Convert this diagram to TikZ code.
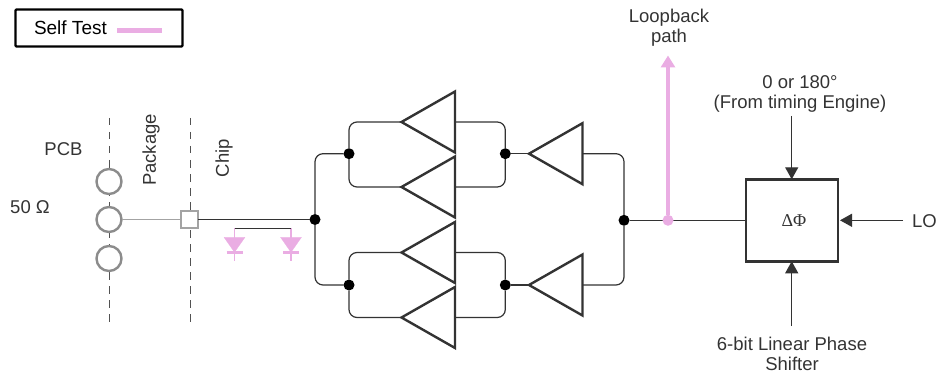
\documentclass[tikz,border=0pt]{standalone}
\usepackage{fontspec}
\setmainfont{Liberation Sans}
\newfontfamily\serifgreek{Liberation Serif}
\usetikzlibrary{shapes.geometric,arrows.meta}
\definecolor{ink}{HTML}{333333}
\definecolor{selftest}{HTML}{EAADE3}
\definecolor{pad}{HTML}{8C8C8C}
\tikzset{
  x=1pt,y=-1pt,
  every node/.style={inner sep=0pt,outer sep=0pt,text=ink,font=\fontsize{18.5}{20}\selectfont},
  wire/.style={draw=ink,line width=1.2pt},
  round wire/.style={wire,rounded corners=8pt},
  pcbwire/.style={draw=pad!80,line width=1.4pt},
  amp/.style={draw=ink,line width=2.4pt,fill=white,isosceles triangle,isosceles triangle apex angle=60,
    isosceles triangle stretches,shape border rotate=180,anchor=lower side,
    minimum width=61pt,minimum height=53.5pt},
  dot/.style={circle,fill=black,minimum size=11pt},
  pinkdot/.style={circle,fill=selftest,minimum size=11pt},
  padc/.style={circle,draw=pad,line width=2.4pt,fill=white,minimum size=25pt},
  boundary/.style={draw=ink!85,line width=1pt,dash pattern=on 7.5pt off 6.5pt},
  pinkline/.style={draw=selftest,line width=1.6pt},
  diode/.style={draw=selftest,fill=selftest,isosceles triangle,isosceles triangle apex angle=70,
    isosceles triangle stretches,shape border rotate=270,anchor=lower side,line width=.2pt,
    minimum width=21pt,minimum height=15pt},
  feed/.style={draw=ink,line width=1.2pt,-{Triangle[length=12pt,width=13pt]}},
  label/.style={align=center},
}
\begin{document}
\begin{tikzpicture}
\useasboundingbox (0,0) rectangle (937,377);
% legend
\node[draw=black,line width=2.4pt,rounded corners=1pt,minimum width=167pt,minimum height=37pt,fill=white] (legend) at (99,28) {};
\node[anchor=west,text=black,font=\fontsize{19}{20}\selectfont] (selftestlabel) at (34,28) {Self Test};
\coordinate (legA) at (117,30.5);
\coordinate (legB) at (162,30.5);
\draw[draw=selftest,line width=5.5pt] (legA) -- (legB);
% boundaries
\coordinate (b1t) at (109,118); \coordinate (b1b) at (109,325);
\coordinate (b2t) at (190,118); \coordinate (b2b) at (190,325);
\draw[boundary] (b1t) -- (b1b);
\draw[boundary] (b2t) -- (b2b);
% labels on left
\node (pcb) at (63.5,149) {PCB};
\node (ohm) at (30,207) {50 Ω};
\node[rotate=90] (package) at (151,150) {Package};
\node[rotate=90] (chip) at (224,158) {Chip};
% pads
\node[padc] (p1) at (109,181.5) {};
\node[padc] (p2) at (109,219.5) {};
\node[padc] (p3) at (109,258.5) {};
\node[draw=pad!80,line width=1.4pt,fill=white,minimum size=17pt] (bond) at (189.5,219.5) {};
\node[dot] (j0) at (315,219.5) {};
\draw[pcbwire] (p2) -- (bond);
\draw[wire] (bond) -- (j0);
% diodes
\coordinate (d1t) at (234.5,228.3); \coordinate (d2t) at (291,228.3);
\coordinate (d1a) at (234.5,237.3); \coordinate (d2a) at (291,237.3);
\coordinate (d1b) at (234.5,261); \coordinate (d2b) at (291,261);
\draw[pinkline] (d1t) -- (d1b);
\draw[pinkline] (d2t) -- (d2b);
\node[diode] (d1) at (d1a) {};
\node[diode] (d2) at (d2a) {};
\draw[draw=selftest,line width=2.5pt] ([xshift=-8pt]d1.apex) -- ([xshift=8pt]d1.apex);
\draw[draw=selftest,line width=2.5pt] ([xshift=-8pt]d2.apex) -- ([xshift=8pt]d2.apex);
\draw[draw=ink,line width=1.2pt] (d1t) -- (d2t);
% amplifiers
\node[amp] (a1) at (455,122) {};
\node[amp] (a2) at (455,187) {};
\node[amp] (a3) at (455,252.5) {};
\node[amp] (a4) at (455,317.5) {};
\node[amp] (o1) at (582.5,153.7) {};
\node[amp] (o2) at (582.5,285) {};
% junctions
\node[dot] (l1) at (349,153.7) {};
\node[dot] (l2) at (349,285) {};
\node[dot] (r1) at (505.3,153.7) {};
\node[dot] (r2) at (505.3,285) {};
\node[dot] (j1) at (624,220.3) {};
\draw[round wire] (j0) |- (l1);
\draw[round wire] (j0) |- (l2);
\draw[round wire] (l1) |- (a1.apex);
\draw[round wire] (l1) |- (a2.apex);
\draw[round wire] (l2) |- (a3.apex);
\draw[round wire] (l2) |- (a4.apex);
\draw[round wire] (a1.lower side) -| (r1);
\draw[round wire] (a2.lower side) -| (r1);
\draw[round wire] (a3.lower side) -| (r2);
\draw[round wire] (a4.lower side) -| (r2);
\draw[wire] (r1) -- (o1.apex);
\draw[wire] (r2) -- (o2.apex);
\draw[round wire] (o1.lower side) -| (j1);
\draw[round wire] (o2.lower side) -| (j1);
% phase shifter
\node[draw=ink,line width=2.4pt,fill=white,minimum width=92pt,minimum height=82pt] (ps) at (792,220.3) {};
\node[font=\serifgreek\fontsize{18}{20}\selectfont] (pslabel) at (794,220.3) {ΔΦ};
\draw[wire] (j1) -- (ps);
% loopback
\node[pinkdot] (lb) at (668,220.3) {};
\node[label] (lbtext) at (669,28) {Loopback\\path};
\coordinate (lbtip) at (668,55.5);
\draw[draw=selftest,line width=3.6pt,-{Triangle[length=12pt,width=14pt]}] (lb) -- (lbtip);
% inputs
\node[label] (top) at (800,93.5) {0 or 180°\\(From timing Engine)};
\node[label] (bot) at (792,354) {6-bit Linear Phase\\Shifter};
\node (lo) at (924.5,221) {LO};
\coordinate (topstart) at (791.7,116);
\coordinate (botstart) at (791.7,326);
\coordinate (lostart) at (903,220.3);
\draw[feed] (topstart) -- (topstart |- ps.north);
\draw[feed] (botstart) -- (botstart |- ps.south);
\draw[feed,shorten >=2pt] (lostart) -- (ps.east);
\end{tikzpicture}
\end{document}
